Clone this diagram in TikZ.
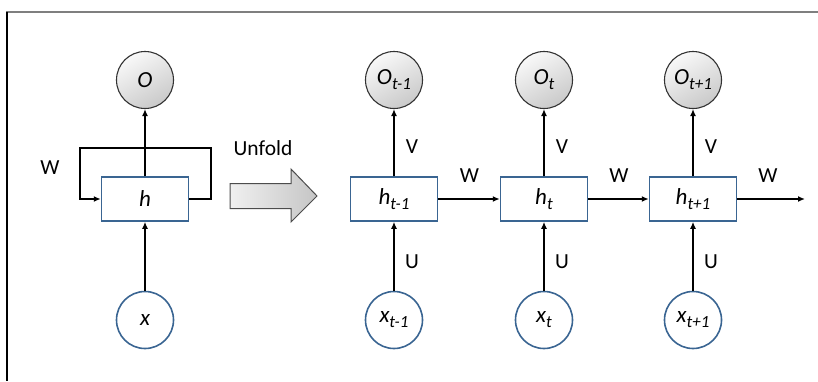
\documentclass[tikz,border=0pt]{standalone}
\usepackage{fontspec}
\setmainfont{Carlito}
\usepackage{tikz}
\usetikzlibrary{arrows.meta,positioning}
\definecolor{boxblue}{HTML}{3A6592}
\definecolor{linegray}{HTML}{7F7F7F}
\newcommand{\subtext}[1]{\raisebox{-0.45ex}{\fontsize{17}{19}\selectfont #1}}

\begin{document}
\begin{tikzpicture}[x=1pt,y=1pt]
                \tikzstyle{every node}+=[inner sep=0pt, font=\fontsize{21.5}{24}\selectfont]
                \tikzstyle{hbox}=[draw=boxblue, line width=1.5pt, fill=white, minimum width=87pt, minimum height=44pt, font=\fontsize{23}{26}\selectfont\itshape]
                \tikzstyle{outc}=[circle, draw=black!80, line width=1.1pt, top color=gray!5, bottom color=gray!42, shading angle=30, minimum size=57pt, font=\fontsize{23}{26}\selectfont\itshape]
                \tikzstyle{inc}=[circle, draw=boxblue, line width=1.6pt, fill=white, minimum size=57pt, font=\fontsize{23}{26}\selectfont\itshape]
                \tikzstyle{wire}=[black, line width=2pt, -{Latex[length=7pt,width=6pt]}]
                \useasboundingbox (0,0) rectangle (818,-381);
                % frame
                \draw [linegray, line width=2pt] (6,-11.5) -- (818,-11.5);
                \draw [black, line width=1.4pt] (7,-11.5) -- (7,-381);
                % folded network
                \node [outc] (o) at (145,-80) {O};
                \node [hbox] (h) at (145,-199) {h};
                \node [inc] (x) at (145,-320) {x};
                \draw [wire] (h) -- (o);
                \draw [wire] (x) -- (h);
                \draw [wire] (h.east) -- ++(22,0) |- (80,-148) |- (h.west);
                \node (wl) at (50,-168) {W};
                % unfold arrow
                \node (unfold) at (263,-148) {Unfold};
                \draw [black!70, line width=1pt, left color=gray!12, right color=gray!45]
                        (230,-183.5) -- (291,-183.5) -- (291,-169) -- (317,-196)
                        -- (291,-222) -- (291,-208.5) -- (230,-208.5) -- cycle;
                % unfolded network
                \node [outc] (o1) at (394,-80) {O\subtext{t-1}};
                \node [hbox] (h1) at (394,-199) {h\subtext{t-1}};
                \node [inc] (x1) at (394,-320) {x\subtext{t-1}};
                \node [outc] (o2) at (544,-80) {O\subtext{t}};
                \node [hbox] (h2) at (544,-199) {h\subtext{t}};
                \node [inc] (x2) at (544,-320) {x\subtext{t}};
                \node [outc] (o3) at (693,-80) {O\subtext{t+1}};
                \node [hbox] (h3) at (693,-199) {h\subtext{t+1}};
                \node [inc] (x3) at (693,-320) {x\subtext{t+1}};
                \coordinate (hend) at (805,-199);
                \draw [wire] (h1) -- (o1);
                \draw (412,-147) node {V};
                \draw [wire] (h2) -- (o2);
                \draw (562,-147) node {V};
                \draw [wire] (h3) -- (o3);
                \draw (711,-147) node {V};
                \draw [wire] (x1) -- (h1);
                \draw (412,-262) node {U};
                \draw [wire] (x2) -- (h2);
                \draw (562,-262) node {U};
                \draw [wire] (x3) -- (h3);
                \draw (711,-262) node {U};
                \draw [wire] (h1) -- (h2);
                \draw (469.5,-176) node {W};
                \draw [wire] (h2) -- (h3);
                \draw (619,-176) node {W};
                \draw [wire] (h3) -- (hend);
                \draw (768,-176) node {W};
            \end{tikzpicture}
\end{document}
